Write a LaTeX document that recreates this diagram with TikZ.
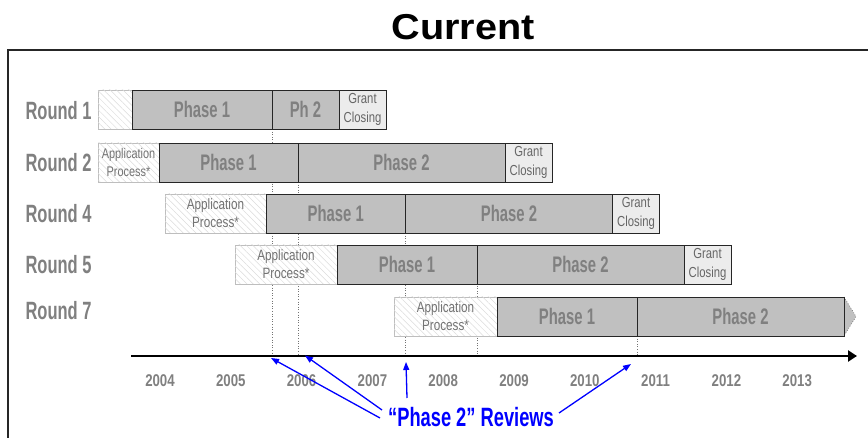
\documentclass[tikz,border=0pt]{standalone}
\usepackage{fontspec}
\setmainfont{Liberation Sans}
\newfontfamily\condB[FakeStretch=0.66]{Liberation Sans}
\newfontfamily\condC[FakeStretch=0.69]{Liberation Sans}
\newfontfamily\condS[FakeStretch=0.78]{Liberation Sans}
\newfontfamily\titlefont[FakeStretch=1.1]{Liberation Sans}
\usetikzlibrary{patterns.meta,arrows.meta}
\definecolor{barfill}{RGB}{192,192,192}
\definecolor{bartext}{RGB}{128,128,128}
\definecolor{closefill}{RGB}{236,236,236}
\definecolor{hatch}{RGB}{220,220,220}
\definecolor{hatchedge}{RGB}{190,190,190}
\tikzset{
  box/.style={anchor=north west, inner sep=0pt, outer sep=0pt, minimum height=39pt},
  phasebox/.style={box, draw=black!85, line width=0.9pt, fill=barfill,
    text=bartext, font=\condB\bfseries\fontsize{22.5}{24}\selectfont},
  appbox/.style={box, draw=hatchedge, line width=0.8pt,
    postaction={pattern={Lines[angle=-45,distance=4.5pt,line width=0.5pt]}, pattern color=hatch},
    fill=white, text=black!55, align=center,
    font=\condS\fontsize{15}{18}\selectfont},
  grantbox/.style={box, draw=black!85, line width=0.9pt, fill=closefill,
    text=black!60, align=center, font=\condS\fontsize{14.5}{19}\selectfont},
  roundlbl/.style={anchor=west, text=bartext, font=\condB\bfseries\fontsize{25}{27}\selectfont},
  yearlbl/.style={text=bartext, font=\condS\bfseries\fontsize{17}{19}\selectfont},
  review/.style={dotted, line width=0.6pt, draw=black!55},
  callout/.style={draw=blue, line width=1.3pt, -{Triangle[length=8pt,width=6pt]}},
}
\begin{document}
\begin{tikzpicture}[x=1pt,y=-1pt]
\useasboundingbox (0,0) rectangle (868,438);
% frame and title
\coordinate (fa) at (8,438);
\coordinate (fb) at (8,50);
\coordinate (fc) at (868,50);
\draw[line width=1.5pt, black!85] (fa) -- (fb) -- (fc);
\node[font=\titlefont\bfseries\fontsize{36}{40}\selectfont] (title) at (463,27) {Current};

% review markers
\coordinate (v1t) at (272,129); \coordinate (v1b) at (272,355);
\coordinate (v2t) at (298,182); \coordinate (v2b) at (298,355);
\coordinate (v3t) at (405.5,233); \coordinate (v3b) at (405.5,355);
\coordinate (v4t) at (477,283); \coordinate (v4b) at (477,355);
\coordinate (v5t) at (637,336); \coordinate (v5b) at (637,355);
\foreach \i in {1,...,5} \draw[review] (v\i t) -- (v\i b);

% round labels
\node[roundlbl] (r1) at (22,111) {Round 1};
\node[roundlbl] (r2) at (22,163) {Round 2};
\node[roundlbl] (r4) at (22,214) {Round 4};
\node[roundlbl] (r5) at (22,265) {Round 5};
\node[roundlbl] (r7) at (22,311) {Round 7};

% Round 1
\node[appbox, minimum width=34pt] (a1) at (98,90) {};
\node[phasebox, minimum width=140pt] (p11) at (132,90) {Phase 1};
\node[phasebox, minimum width=67pt] (p12) at (272,90) {Ph 2};
\node[grantbox, minimum width=47pt] (g1) at (339,90) {Grant\\Closing};

% Round 2
\node[appbox, minimum width=61pt, font=\condS\fontsize{14}{18}\selectfont, text width=61pt] (a2) at (98,143) {Application\\Process*};
\node[phasebox, minimum width=139pt] (p21) at (159,143) {Phase 1};
\node[phasebox, minimum width=207pt] (p22) at (298,143) {Phase 2};
\node[grantbox, minimum width=47pt] (g2) at (505,143) {Grant\\Closing};

% Round 4
\node[appbox, minimum width=101pt] (a4) at (165,194) {Application\\Process*};
\node[phasebox, minimum width=139.5pt] (p41) at (266,194) {Phase 1};
\node[phasebox, minimum width=207pt] (p42) at (405.5,194) {Phase 2};
\node[grantbox, minimum width=47pt] (g4) at (612.5,194) {Grant\\Closing};

% Round 5
\node[appbox, minimum width=102pt] (a5) at (235,245) {Application\\Process*};
\node[phasebox, minimum width=140pt] (p51) at (337,245) {Phase 1};
\node[phasebox, minimum width=207pt] (p52) at (477,245) {Phase 2};
\node[grantbox, minimum width=47pt] (g5) at (684,245) {Grant\\Closing};

% Round 7, last bar continues past the chart
\node[appbox, minimum width=103pt] (a7) at (394,297) {Application\\Process*};
\node[phasebox, minimum width=140pt] (p71) at (497,297) {Phase 1};
\coordinate (tipA) at (844,297);
\coordinate (tipB) at (856,316.5);
\coordinate (tipC) at (844,336);
\fill[barfill] (tipA) -- (tipB) -- (tipC) -- cycle;
\draw[dotted, line width=0.6pt, black!60] (tipA) -- (tipB) -- (tipC);
\node[phasebox, minimum width=207pt] (p72) at (637,297) {Phase 2};

% time axis
\coordinate (ax0) at (131,356);
\coordinate (ax1) at (857,356);
\draw[line width=2.6pt, -{Triangle[length=9pt,width=11pt]}] (ax0) -- (ax1);
\foreach \y [count=\k from 0] in {2004,...,2013}
  \node[yearlbl] (y\y) at (160+70.8*\k,381) {\y};

% reviews callout
\node[text=blue, font=\condC\bfseries\fontsize{26.5}{28}\selectfont] (rev) at (471,417) {“Phase 2” Reviews};
\coordinate (s1) at (380,418); \coordinate (e1) at (271,358);
\coordinate (s2) at (382,410); \coordinate (e2) at (305,355.5);
\coordinate (s3) at (407,398); \coordinate (e3) at (406,362);
\coordinate (s4) at (559,413); \coordinate (e4) at (631,364);
\foreach \i in {1,...,4} \draw[callout] (s\i) -- (e\i);
\end{tikzpicture}
\end{document}
